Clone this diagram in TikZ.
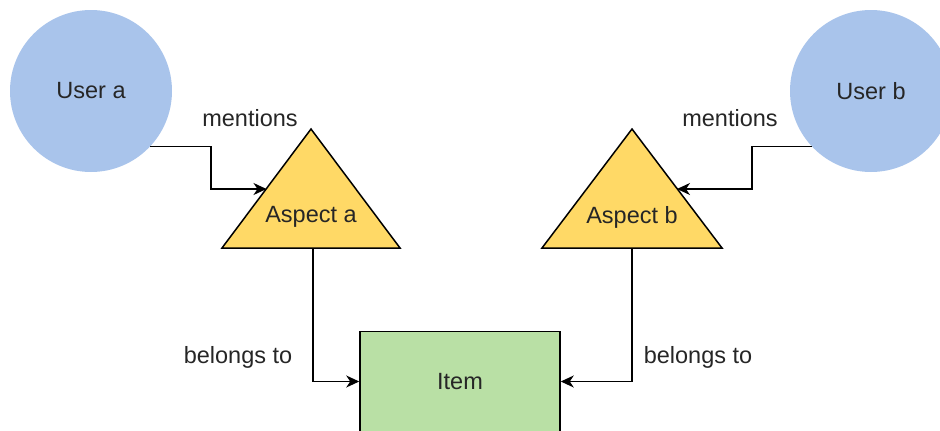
\documentclass[tikz,border=0pt]{standalone}
\usepackage{fontspec}
\setmainfont{Liberation Sans}
\usetikzlibrary{arrows.meta,calc}
\definecolor{userblue}{HTML}{A9C4EB}
\definecolor{aspyellow}{HTML}{FFD966}
\definecolor{itemgreen}{HTML}{B9E0A5}
\definecolor{txt}{HTML}{262626}
\begin{document}
\begin{tikzpicture}[x=1pt,y=-1pt,
  every node/.append style={font=\fontsize{23.5}{28}\selectfont, text=txt},
  userc/.style={circle, fill=userblue, minimum size=162pt, inner sep=0pt},
  aspshape/.style={fill=aspyellow, draw=black, line width=1.5pt, line join=miter},
  itembox/.style={rectangle, fill=itemgreen, draw=black, line width=1.5pt, minimum width=200pt, minimum height=100pt, inner sep=0pt},
  conn/.style={draw=black, line width=1.5pt, -{Stealth[length=13pt,width=12pt,inset=4pt]}},
  lbl/.style={inner sep=0pt}
]
\useasboundingbox (0,0) rectangle (940,431);
% users
\node[userc] (ua) at (91,91) {User a};
\node[userc] (ub) at (871,91) {User b};
% item
\node[itembox] (item) at (460,381.5) {Item};
% triangle a
\coordinate (taTop) at (311,129);
\coordinate (taL) at (222,248);
\coordinate (taR) at (400,248);
\path[aspshape] (taTop) -- (taL) -- (taR) -- cycle;
\node (ta) at (311,217) {Aspect a};
% triangle b
\coordinate (tbTop) at (632,129);
\coordinate (tbL) at (542,248);
\coordinate (tbR) at (722,248);
\path[aspshape] (tbTop) -- (tbL) -- (tbR) -- cycle;
\node (tb) at (632,217) {Aspect b};
% connector points
\coordinate (taIn) at (266.5,189);
\coordinate (tbIn) at (677,189);
\coordinate (ja) at (211,168);
\coordinate (jb) at (752,168);
\coordinate (taOut) at (313,248);
\coordinate (tbOut) at (632,248);
% connectors
\draw[conn] (ua.-43.6) -| (ja) |- (taIn);
\draw[conn] (ub.223.6) -| (jb) |- (tbIn);
\draw[conn] (taOut) |- (item.west);
\draw[conn] (tbOut) |- (item.east);
% labels
\node[lbl] (m1) at (250,118) {mentions};
\node[lbl] (m2) at (730,118) {mentions};
\node[lbl] (b1) at (238,357) {belongs to};
\node[lbl] (b2) at (698,357) {belongs to};
\end{tikzpicture}
\end{document}
